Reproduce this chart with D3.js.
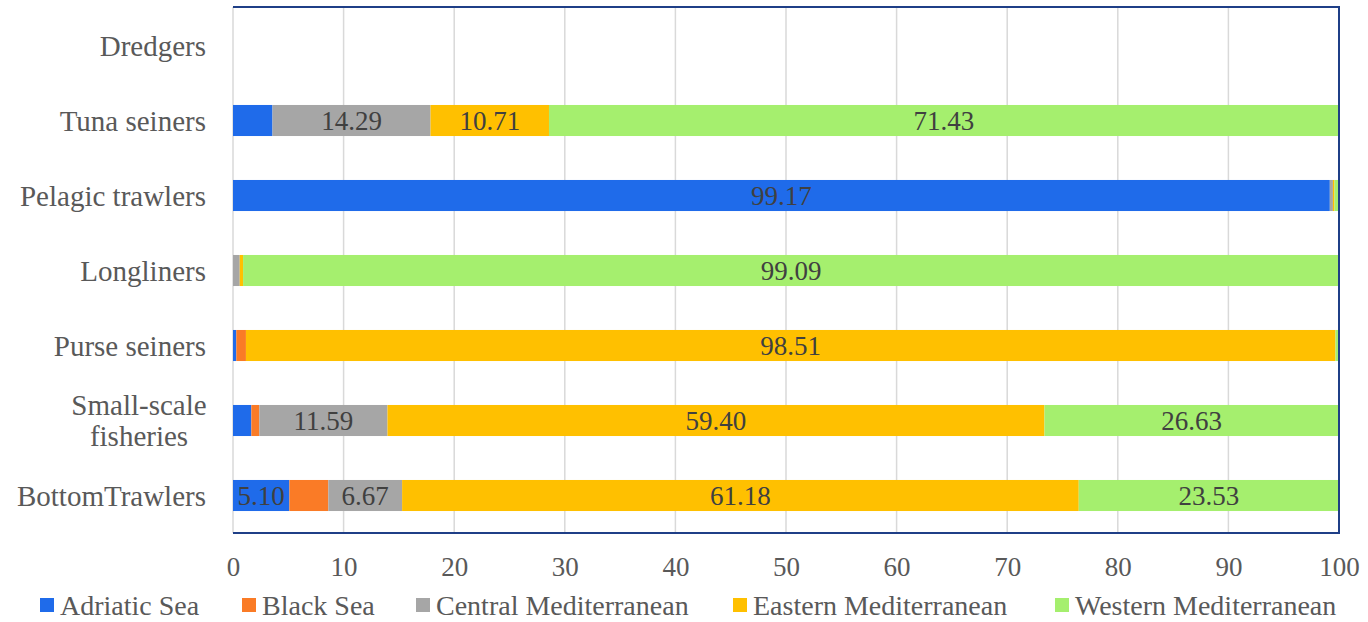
<!DOCTYPE html>
<html>
<head>
<meta charset="utf-8">
<script src="https://cdn.jsdelivr.net/npm/d3@7"></script>
<style>
  html, body { margin: 0; padding: 0; background: #fff; }
  svg { display: block; }
</style>
</head>
<body>
<svg id="chart" width="1368" height="622" font-family="Liberation Serif, Times New Roman, serif"></svg>
<script>
// ---- data ----
const categories = ["Dredgers", "Tuna seiners", "Pelagic trawlers", "Longliners", "Purse seiners", "Small-scale fisheries", "BottomTrawlers"];
const seriesNames = ["Adriatic Sea", "Black Sea", "Central Mediterranean", "Eastern Mediterranean", "Western Mediterranean"];
const adriatic = [0, 3.57, 99.17, 0, 0.30, 1.66, 5.10];
const blackSea = [0, 0, 0, 0, 0.87, 0.72, 3.52];
const central = [0, 14.29, 0.28, 0.61, 0, 11.59, 6.67];
const eastern = [0, 10.71, 0.14, 0.30, 98.51, 59.40, 61.18];
const western = [0, 71.43, 0.41, 99.09, 0.32, 26.63, 23.53];
const xTicks = [0, 10, 20, 30, 40, 50, 60, 70, 80, 90, 100];
const colors = ["#1F6BEA", "#FA7B26", "#A6A6A6", "#FFC000", "#A5EF6E"];

const FONT = "'Liberation Serif', 'Times New Roman', serif";
const seriesValues = [adriatic, blackSea, central, eastern, western];
const rows = categories.map((c, i) => {
  const r = { cat: c };
  seriesNames.forEach((s, j) => r[s] = seriesValues[j][i]);
  return r;
});

const svg = d3.select("#chart");
const pLeft = 233, pRight = 1339, pTop = 8, pBottom = 533;

const x = d3.scaleLinear().domain([0, 100]).range([pLeft, pRight]);
const y = d3.scaleBand().domain(categories).range([pTop, pBottom]).paddingInner(0.586).paddingOuter(0.293);
const color = d3.scaleOrdinal().domain(seriesNames).range(colors);

// gridlines
svg.append("g").selectAll("line").data(xTicks).join("line")
  .attr("x1", d => x(d)).attr("x2", d => x(d))
  .attr("y1", pTop - 1).attr("y2", pBottom)
  .attr("stroke", "#D9D9D9").attr("stroke-width", 1.5);

// stacked bars
const stack = d3.stack().keys(seriesNames)(rows);
const layers = svg.append("g").selectAll("g").data(stack).join("g")
  .attr("fill", d => color(d.key));
layers.selectAll("rect").data(d => d.map(v => ({ v, key: d.key })))
  .join("rect")
  .attr("x", d => x(d.v[0]))
  .attr("width", d => Math.max(0, x(d.v[1]) - x(d.v[0])))
  .attr("y", d => y(d.v.data.cat))
  .attr("height", y.bandwidth());

// data labels
const labels = [];
stack.forEach(layer => layer.forEach(v => {
  const val = v[1] - v[0];
  if (val >= 5) labels.push({ v, val });
}));
svg.append("g").selectAll("text").data(labels).join("text")
  .attr("x", d => x((d.v[0] + d.v[1]) / 2))
  .attr("y", d => y(d.v.data.cat) + y.bandwidth() / 2)
  .attr("dy", "0.35em")
  .attr("text-anchor", "middle")
  .attr("font-family", FONT)
  .attr("font-size", 27)
  .attr("fill", "#404040")
  .text(d => d.val.toFixed(2));

// plot border (top, right, bottom)
svg.append("path")
  .attr("d", `M${pLeft},${pTop - 1}H${pRight}V${pBottom}H${pLeft}`)
  .attr("fill", "none").attr("stroke", "#1F3F87").attr("stroke-width", 2);

// x axis tick labels
const xAxis = d3.axisBottom(x).tickValues(xTicks).tickSize(0).tickPadding(0).tickFormat(d3.format("d"));
const gx = svg.append("g").attr("transform", `translate(0,${pBottom + 24})`).call(xAxis)
  .attr("font-family", FONT);
gx.select(".domain").remove();
gx.selectAll("text").attr("font-size", 27).attr("fill", "#595959")
  .attr("font-family", FONT);

// y category labels
const gy = svg.append("g").attr("font-family", FONT);
categories.forEach(c => {
  const cy = y(c) + y.bandwidth() / 2;
  if (c === "Small-scale fisheries") {
    const t = gy.append("text").attr("text-anchor", "middle").attr("font-size", 29).attr("fill", "#595959");
    t.append("tspan").attr("x", 139).attr("y", cy - 15.5).attr("dy", "0.35em").text("Small-scale");
    t.append("tspan").attr("x", 139).attr("y", cy + 15.5).attr("dy", "0.35em").text("fisheries");
  } else {
    gy.append("text").attr("x", 206).attr("y", cy).attr("dy", "0.35em")
      .attr("text-anchor", "end").attr("font-size", 29).attr("fill", "#595959").text(c);
  }
});

// legend
const legendX = [40, 242, 416, 733, 1055];
const lg = svg.append("g").attr("font-family", FONT).selectAll("g").data(seriesNames).join("g")
  .attr("transform", (d, i) => `translate(${legendX[i]},605)`);
lg.append("rect").attr("x", 0).attr("y", -7).attr("width", 14).attr("height", 14).attr("fill", d => color(d));
lg.append("text").attr("x", 20).attr("y", 0).attr("dy", "0.35em").attr("font-size", 28)
  .attr("fill", "#595959").text(d => d);
</script>
</body>
</html>
